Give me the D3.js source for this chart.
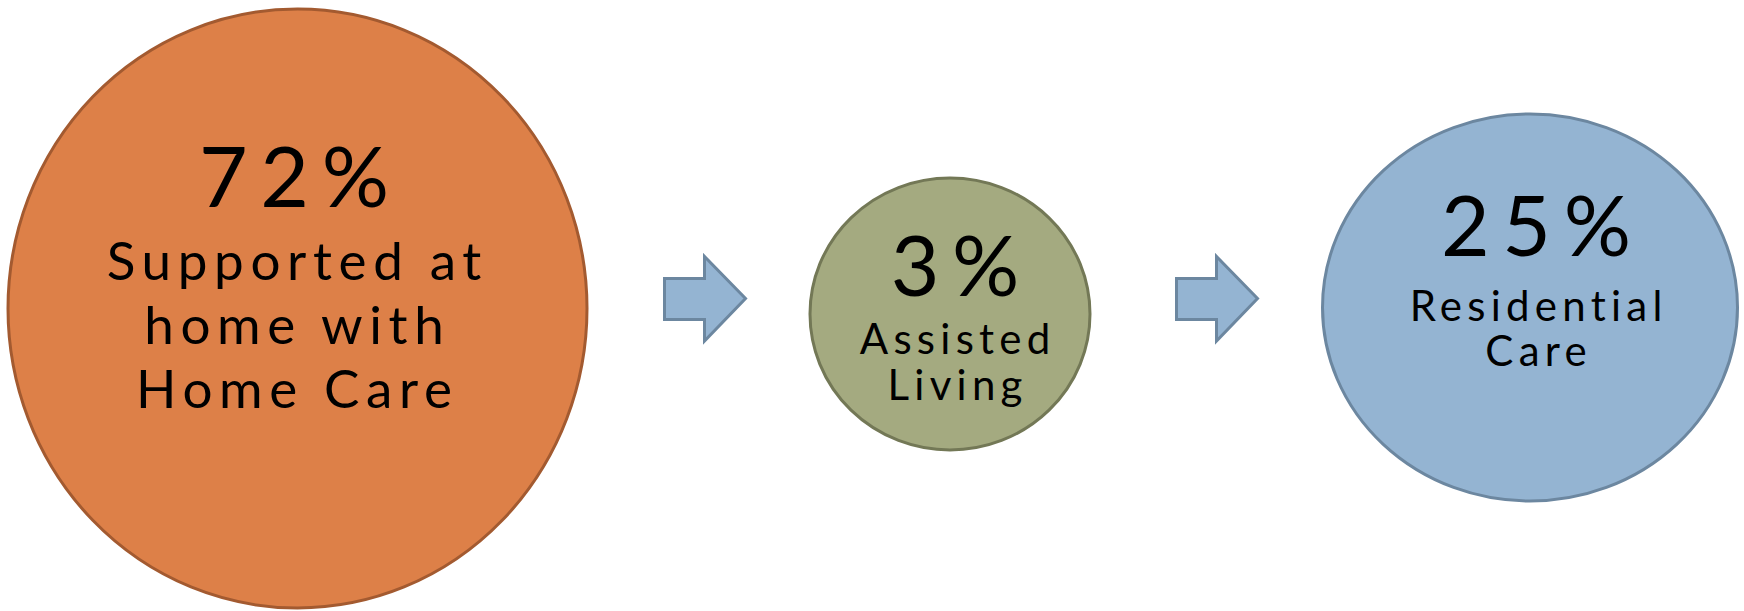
<!DOCTYPE html>
<html>
<head>
<meta charset="utf-8">
<script src="https://cdn.jsdelivr.net/npm/d3@7"></script>
<style>
  html, body { margin: 0; padding: 0; background: #ffffff; }
  svg { display: block; }
  text { font-family: Lato, "Open Sans", "DejaVu Sans", sans-serif; fill: #000; }
</style>
</head>
<body>
<svg id="chart" width="1744" height="611"></svg>
<script>
// ---- data ----
const categories = ["Home Care", "Assisted Living", "Residential Care"];
const percents = [72, 3, 25];
const labelLines = [
  ["Supported at", "home with", "Home Care"],
  ["Assisted", "Living"],
  ["Residential", "Care"]
];
const fills = ["#dd8048", "#a4aa80", "#94b4d2"];
const strokes = ["#a35a30", "#737856", "#6c87a0"];
// arrows sit between consecutive stages
const transitions = [["Home Care", "Assisted Living"], ["Assisted Living", "Residential Care"]];

// ---- layout (scales) ----
const svg = d3.select("#chart");

const cx = d3.scaleOrdinal().domain(categories).range([297.5, 950, 1530]);
const cy = d3.scaleOrdinal().domain(categories).range([308.5, 314, 307.5]);
const rx = d3.scaleOrdinal().domain(categories).range([289.5, 140, 207.5]);
const ry = d3.scaleOrdinal().domain(categories).range([299.5, 136, 193.5]);
const fillScale = d3.scaleOrdinal().domain(categories).range(fills);
const strokeScale = d3.scaleOrdinal().domain(categories).range(strokes);

const pctBase = d3.scaleOrdinal().domain(categories).range([207, 296, 256]);
const pctSize = d3.scaleOrdinal().domain(categories).range([84, 84, 84]);
const lblBase = d3.scaleOrdinal().domain(categories).range([280, 354, 321]);
const lblSize = d3.scaleOrdinal().domain(categories).range([53, 42, 42]);
const lblStep = d3.scaleOrdinal().domain(categories).range([64, 46, 45]);
const textX = d3.scaleOrdinal().domain(categories).range([294, 955, 1536]);
const pctLS = 0.15, lblLS = 0.125; // letter spacing in em

const arrowX = d3.scaleOrdinal().domain(transitions.map(t => t[0])).range([664.5, 1176.5]);

const data = categories.map((c, i) => ({ cat: c, pct: percents[i], lines: labelLines[i] }));

// ---- circles ----
svg.selectAll("ellipse.stage")
  .data(data)
  .join("ellipse")
  .attr("class", "stage")
  .attr("cx", d => cx(d.cat))
  .attr("cy", d => cy(d.cat))
  .attr("rx", d => rx(d.cat))
  .attr("ry", d => ry(d.cat))
  .attr("fill", d => fillScale(d.cat))
  .attr("stroke", d => strokeScale(d.cat))
  .attr("stroke-width", 3);

// ---- arrows ----
const aw = 81, shaftLen = 40, shaftTop = 278.5, shaftBot = 319.5, headTop = 256.5, headBot = 341, tipY = 298.5;
svg.selectAll("path.arrow")
  .data(transitions)
  .join("path")
  .attr("class", "arrow")
  .attr("d", t => {
    const x0 = arrowX(t[0]);
    const p = d3.path();
    p.moveTo(x0, shaftTop);
    p.lineTo(x0 + shaftLen, shaftTop);
    p.lineTo(x0 + shaftLen, headTop);
    p.lineTo(x0 + aw, tipY);
    p.lineTo(x0 + shaftLen, headBot);
    p.lineTo(x0 + shaftLen, shaftBot);
    p.lineTo(x0, shaftBot);
    p.closePath();
    return p.toString();
  })
  .attr("fill", "#94b4d2")
  .attr("stroke", "#6c87a0")
  .attr("stroke-width", 3)
  .attr("stroke-linejoin", "miter");

// ---- texts ----
const g = svg.selectAll("g.label").data(data).join("g").attr("class", "label");

g.append("text")
  .attr("x", d => textX(d.cat) + pctLS * pctSize(d.cat) / 2)
  .attr("y", d => pctBase(d.cat))
  .attr("text-anchor", "middle")
  .style("font-size", d => pctSize(d.cat) + "px")
  .style("letter-spacing", pctLS + "em")
  .text(d => d.pct + "%");

g.each(function(d) {
  d3.select(this).selectAll("text.line")
    .data(d.lines)
    .join("text")
    .attr("class", "line")
    .attr("x", textX(d.cat) + lblLS * lblSize(d.cat) / 2)
    .attr("y", (l, i) => lblBase(d.cat) + i * lblStep(d.cat))
    .attr("text-anchor", "middle")
    .style("font-size", lblSize(d.cat) + "px")
    .style("letter-spacing", lblLS + "em")
    .text(l => l);
});
</script>
</body>
</html>
